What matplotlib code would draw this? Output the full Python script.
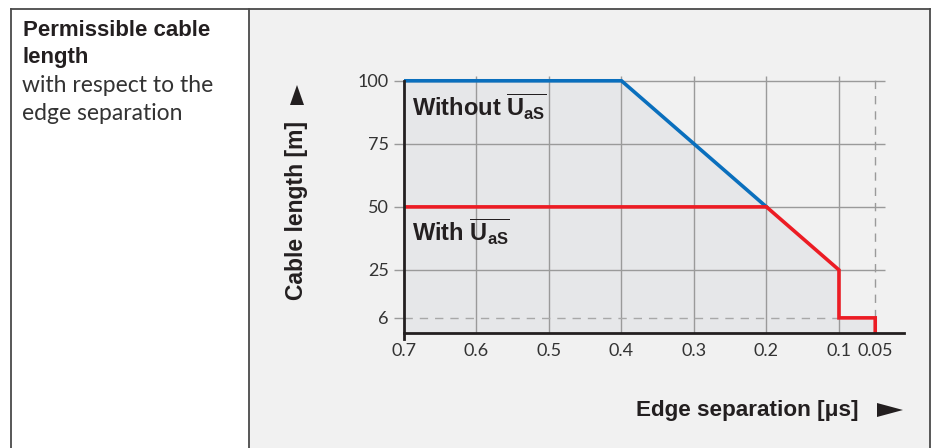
import matplotlib
matplotlib.use("Agg")
import matplotlib.pyplot as plt
from matplotlib.patches import Rectangle, Polygon
from matplotlib.lines import Line2D

plt.rcParams['font.family'] = ['Liberation Sans', 'DejaVu Sans']
plt.rcParams['mathtext.fontset'] = 'custom'
plt.rcParams['mathtext.rm'] = 'Liberation Sans'
plt.rcParams['mathtext.bf'] = 'Liberation Sans:bold'

# data
x_ticks = [0.7, 0.6, 0.5, 0.4, 0.3, 0.2, 0.1, 0.05]
x_labels = ["0.7", "0.6", "0.5", "0.4", "0.3", "0.2", "0.1", "0.05"]
y_ticks = [6, 25, 50, 75, 100]

# ohne U_aS
blue_x = [0.7, 0.4, 0.2]
blue_y = [100, 100, 50]
# mit U_aS
red_x = [0.7, 0.2, 0.1, 0.1, 0.05, 0.05]
red_y = [50, 50, 25, 6, 6, 0]

# Huellkurve fuer die graue Flaeche
area_x = [0.7, 0.4, 0.2, 0.1, 0.1, 0.05, 0.05]
area_y = [100, 100, 50, 25, 6, 6, 0]

W, H = 937, 448
fig = plt.figure(figsize=(W / 100, H / 100), dpi=100)
fig.patch.set_facecolor("white")

def fx(px):
    return px / W

def fy(py):
    return 1 - py / H

thin = dict(family=["Lato", "DejaVu Sans"], fontweight="normal")

# rechtes Feld grau
fig.add_artist(Rectangle((fx(249), 0), fx(930) - fx(249), fy(9), transform=fig.transFigure,
                         facecolor="#f1f1f1", edgecolor="none", zorder=0))
# Rahmen
frame = "#4a4a4a"
for xx in [11, 249, 930]:
    fig.add_artist(Line2D([fx(xx), fx(xx)], [0, fy(9)], transform=fig.transFigure, color=frame, lw=1.3))
fig.add_artist(Line2D([fx(11), fx(930)], [fy(9), fy(9)], transform=fig.transFigure, color=frame, lw=1.3))

# linke Spalte
fig.text(fx(23), fy(31), "Permissible cable", fontsize=16, fontweight="bold", color="#231f20", va="center")
fig.text(fx(23), fy(58), "length", fontsize=16, fontweight="bold", color="#231f20", va="center")
fig.text(fx(22), fy(86), "with respect to the", fontsize=16.5, color="#333333", va="center", **thin)
fig.text(fx(22), fy(114), "edge separation", fontsize=16.5, color="#333333", va="center", **thin)

ax = fig.add_axes([fx(404), fy(333), fx(904) - fx(404), fy(76) - fy(333)])
ax.set_facecolor("none")
ax.set_xlim(0.7, 0.0103)
ax.set_ylim(0, 101.9)

ax.fill_between(area_x, area_y, 0, color="#e6e7e9", lw=0, zorder=1)

# Gitter
ax.vlines(x_ticks[1:-1], 0, 101.9, color="#9a9a9a", lw=1, zorder=2)
ax.hlines(y_ticks[1:], 0.7, 0.037, color="#9a9a9a", lw=1, zorder=2)
ax.vlines([0.05], 0, 101.9, color="#9a9a9a", lw=1, linestyles=(0, (6, 5)), zorder=2)
ax.hlines([6], 0.7, 0.1, color="#a8a8a8", lw=1, linestyles=(0, (6, 5)), zorder=2)

ax.plot(blue_x, blue_y, color="#0a6fbd", lw=2.6, solid_joinstyle="miter", zorder=4)
ax.plot(red_x, red_y, color="#ec1c24", lw=2.6, solid_joinstyle="miter", zorder=5)

ax.text(0.689, 89.5, r"Without $\overline{\mathbf{U}_{\mathbf{aS}}}$", fontsize=17, fontweight="bold",
        color="#231f20", va="center", zorder=6)
ax.text(0.689, 40, r"With $\overline{\mathbf{U}_{\mathbf{aS}}}$", fontsize=17, fontweight="bold",
        color="#231f20", va="center", zorder=6)

for s in ["top", "right"]:
    ax.spines[s].set_visible(False)
ax.spines["left"].set_bounds(-2.5, 100)
ax.spines["left"].set_linewidth(2)
ax.spines["bottom"].set_linewidth(2)
ax.spines["left"].set_color("#231f20")
ax.spines["bottom"].set_color("#231f20")
ax.spines["left"].set_zorder(7)
ax.spines["bottom"].set_zorder(7)

ax.set_yticks(y_ticks)
ax.set_yticklabels([str(v) for v in y_ticks])
ax.set_xticks(x_ticks)
ax.set_xticklabels(x_labels)
ax.tick_params(axis="y", length=7, width=1, color="#9a9a9a", pad=4, labelsize=13, labelcolor="#333333")
ax.tick_params(axis="x", length=0, pad=7, labelsize=13, labelcolor="#333333")
for lab in ax.get_xticklabels() + ax.get_yticklabels():
    lab.set_family(["Lato", "DejaVu Sans"])
    lab.set_fontweight("normal")

# Achsenbeschriftungen
fig.text(fx(297), fy(210), "Cable length [m]", rotation=90, fontsize=16.5, fontweight="bold",
         color="#231f20", ha="center", va="center")
fig.text(fx(858), fy(410), "Edge separation [\u03bcs]", fontsize=16.2, fontweight="bold",
         color="#231f20", ha="right", va="center")
# Pfeile
fig.add_artist(Polygon([(fx(290), fy(105)), (fx(304), fy(105)), (fx(297), fy(85))], closed=True,
                       transform=fig.transFigure, facecolor="#231f20", edgecolor="none"))
fig.add_artist(Polygon([(fx(877), fy(403)), (fx(877), fy(417)), (fx(903), fy(410))], closed=True,
                       transform=fig.transFigure, facecolor="#231f20", edgecolor="none"))

fig.savefig("out.png", dpi=100)
